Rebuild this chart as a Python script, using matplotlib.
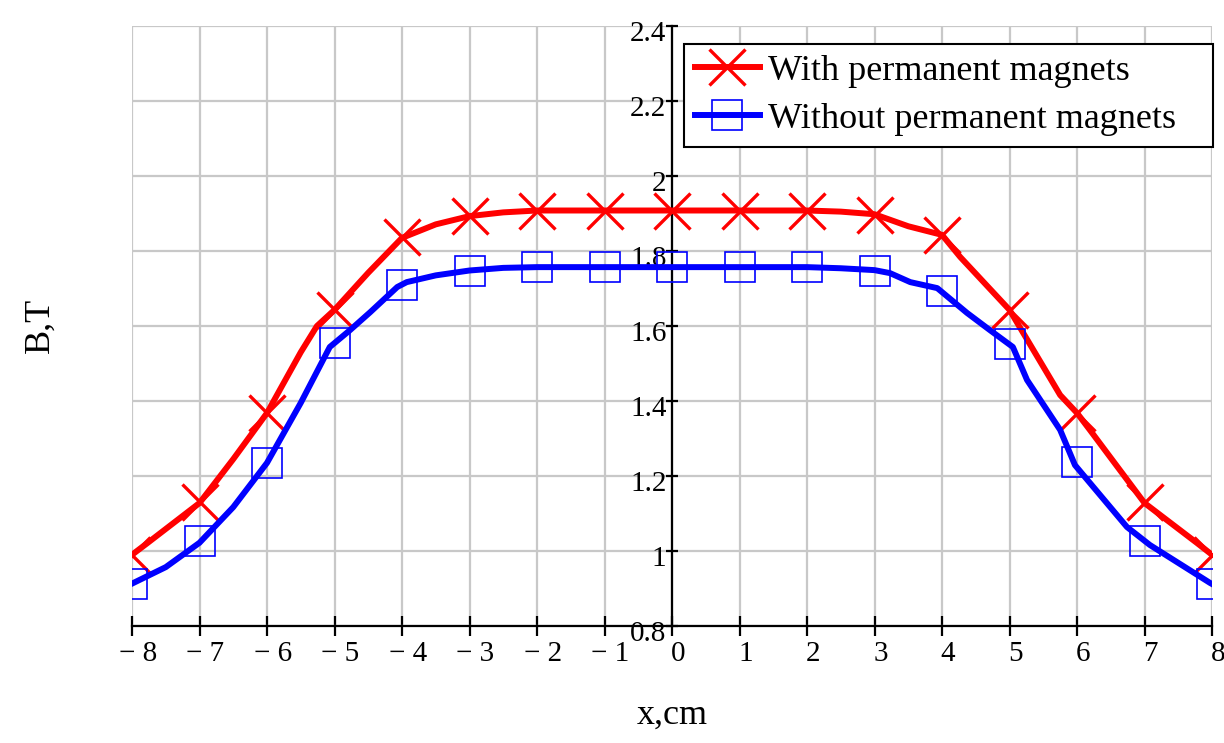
import matplotlib
matplotlib.use("Agg")
import matplotlib.pyplot as plt
import matplotlib.transforms as mtransforms

plt.rcParams['font.family'] = ['Liberation Serif', 'DejaVu Serif']

# Field profile along x (dense curve) for both configurations
x_with_line = [-8, -7.78, -7, -6.5, -6, -5.5, -5.26, -5, -4.5, -4, -3.5, -3, -2.5, -2,
               -1, 0, 1, 2, 2.5, 3, 3.5, 4, 4.27, 5, 5.75, 6, 6.19, 7, 7.78, 8]
b_with_line = [0.99, 1.02, 1.128, 1.245, 1.368, 1.53, 1.60, 1.643, 1.742, 1.835, 1.871, 1.893,
               1.903, 1.908, 1.908, 1.908, 1.908, 1.908, 1.905, 1.898, 1.866, 1.843, 1.784,
               1.643, 1.416, 1.368, 1.323, 1.128, 1.021, 0.99]

x_without_line = [-8, -7.5, -7, -6.5, -6, -5.5, -5.07, -4.77, -4.47, -4.07, -3.93, -3.5, -3,
                  -2.5, -2, -1, 0, 1, 2, 2.5, 3, 3.23, 3.53, 3.93, 4.37, 4.71, 5.05, 5.26,
                  5.75, 5.97, 6.74, 7.08, 7.97, 8]
b_without_line = [0.913, 0.957, 1.022, 1.117, 1.235, 1.395, 1.544, 1.589, 1.637, 1.704, 1.717,
                  1.735, 1.748, 1.755, 1.757, 1.757, 1.757, 1.757, 1.757, 1.754, 1.749, 1.741,
                  1.717, 1.701, 1.635, 1.589, 1.544, 1.456, 1.323, 1.229, 1.064, 1.016, 0.915,
                  0.912]

# Values at the marked positions
x_marks = [-8, -7, -6, -5, -4, -3, -2, -1, 0, 1, 2, 3, 4, 5, 6, 7, 8]
b_with_marks = [0.99, 1.13, 1.368, 1.643, 1.837, 1.893, 1.908, 1.908, 1.908, 1.908, 1.908,
                1.896, 1.843, 1.643, 1.368, 1.13, 0.99]
b_without_marks = [0.913, 1.027, 1.235, 1.555, 1.709, 1.747, 1.757, 1.757, 1.757, 1.757,
                   1.757, 1.747, 1.693, 1.552, 1.237, 1.027, 0.912]

x_ticks = [-8, -7, -6, -5, -4, -3, -2, -1, 0, 1, 2, 3, 4, 5, 6, 7, 8]
x_tick_labels = ['− 8', '− 7', '− 6', '− 5', '− 4', '− 3', '− 2', '− 1',
                 '0', '1', '2', '3', '4', '5', '6', '7', '8']
y_ticks = [0.8, 1.0, 1.2, 1.4, 1.6, 1.8, 2.0, 2.2, 2.4]
y_tick_labels = ['0.8', '1', '1.2', '1.4', '1.6', '1.8', '2', '2.2', '2.4']

label_with = 'With permanent magnets'
label_without = 'Without permanent magnets'

RED = '#ff0000'
BLUE = '#0000ff'

fig = plt.figure(figsize=(12.24, 7.43), dpi=100)
ax = fig.add_axes([132 / 1224, 117 / 743, 1080 / 1224, 600 / 743])

ax.set_xlim(-8, 8)
ax.set_ylim(0.8, 2.4)

ax.plot(x_with_line, b_with_line, color=RED, lw=4.3, zorder=3, solid_joinstyle='round')
ax.plot(x_marks, b_with_marks, ls='none', marker='x', ms=26, mew=2.4, color=RED, zorder=3)
ax.plot(x_without_line, b_without_line, color=BLUE, lw=4.3, zorder=3, solid_joinstyle='round')
ax.plot(x_marks, b_without_marks, ls='none', marker='s', ms=21, mew=1.2,
        mfc='none', mec=BLUE, zorder=3)

# Axes: horizontal axis at the bottom, vertical axis through x = 0
for side in ('top', 'right'):
    ax.spines[side].set_visible(False)
ax.spines['left'].set_position(('data', 0))
ax.spines['left'].set_linewidth(1.6)
ax.spines['bottom'].set_linewidth(1.6)
ax.spines['left'].set_zorder(2.5)

ax.grid(True, color='#c8c8c8', lw=1.6, zorder=0)
ax.set_axisbelow(True)

ax.set_xticks(x_ticks)
ax.set_xticklabels(x_tick_labels, fontsize=21)
ax.set_yticks(y_ticks)
ax.set_yticklabels(y_tick_labels, fontsize=21)
ax.tick_params(axis='x', direction='inout', length=14, width=1.6, pad=4)
ax.tick_params(axis='y', direction='inout', length=8, width=1.6, pad=0)

# Small offsets of the tick labels
for lab in ax.get_xticklabels():
    lab.set_transform(lab.get_transform() +
                      mtransforms.ScaledTranslation(6 / 100, 0, fig.dpi_scale_trans))
for lab in ax.get_yticklabels():
    lab.set_transform(lab.get_transform() +
                      mtransforms.ScaledTranslation(0, -5 / 100, fig.dpi_scale_trans))

fig.text(672 / 1224, 1 - 715 / 743, 'x,cm', fontsize=26, ha='center', va='center')
fig.text(40 / 1224, 1 - 325 / 743, 'B,T', fontsize=26, ha='center', va='center', rotation=90)

h1, = ax.plot([], [], color=RED, lw=4.3, marker='x', ms=26, mew=2.4)
h2, = ax.plot([], [], color=BLUE, lw=4.3, marker='s', ms=21, mew=1.2, mfc='none', mec=BLUE)
leg_x0 = (684 - 132) / 1080
leg_w = (1213 - 684) / 1080
leg_y0 = (626 - 145) / 600
leg_h = (145 - 44) / 600
leg = ax.legend([h1, h2], [label_with, label_without], loc='upper left',
                bbox_to_anchor=(leg_x0, leg_y0, leg_w, leg_h), mode='expand',
                borderaxespad=0, fancybox=False,
                edgecolor='black', framealpha=1, fontsize=26, handlelength=1.8,
                handletextpad=0.22, borderpad=0.3, labelspacing=0.4)
leg.get_frame().set_linewidth(1.5)
leg.set_zorder(5)

fig.savefig('out.png', dpi=100, facecolor='white')
